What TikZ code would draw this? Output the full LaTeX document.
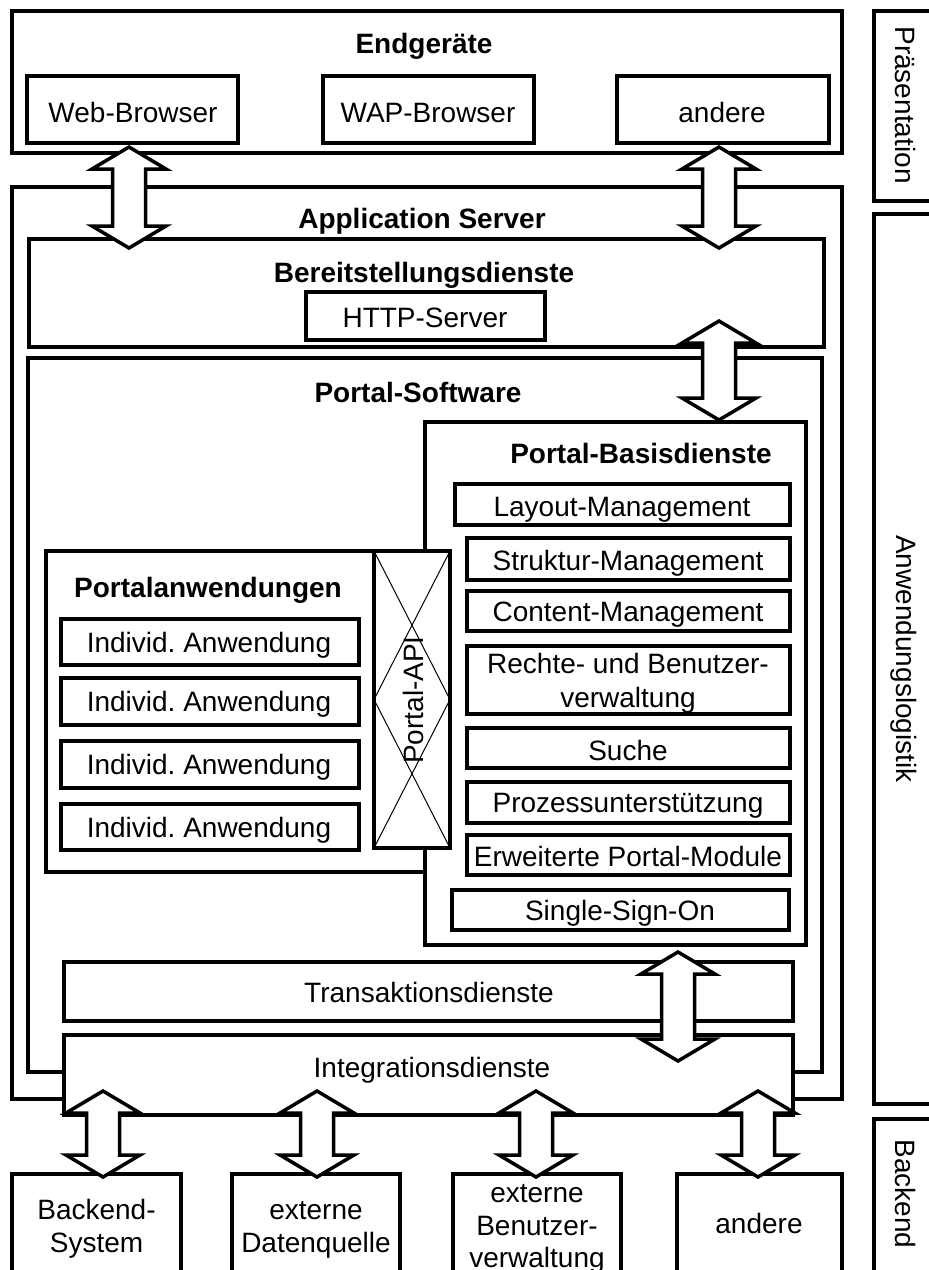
\documentclass[tikz,border=0pt]{standalone}
\usepackage{fontspec}
\setmainfont{Liberation Sans}
\usetikzlibrary{calc}
\frenchspacing

\tikzset{
  frame/.style={draw=black, line width=4pt, fill=white, inner sep=0pt, outer sep=0pt, anchor=north west},
  lbl/.style={font=\fontsize{28}{33}\selectfont, inner sep=0pt, outer sep=0pt, anchor=base},
  ttl/.style={lbl, font=\fontsize{28}{33}\selectfont\bfseries},
  blkarrow/.style={draw=black, fill=white, line width=3.5pt, line join=miter},
  apiline/.style={draw=black, line width=1pt},
}

% frame node from its top-left to its bottom-right corner (line centres)
\newcommand\mkframe[5]{\node[frame, minimum width={(#4-(#2))*1pt}, minimum height={(#5-(#3))*1pt}] (#1) at (#2,#3) {};}

% white double-headed block arrow between two named points (upper tip first)
\newcommand\dblarrow[2]{\draw[blkarrow] (#1) -- ++(37,22) -- ++(-20.5,0) -- ($(#2)+(16.5,-22)$) -- ++(20.5,0) -- (#2) -- ++(-37,-22) -- ++(20.5,0) -- ($(#1)+(-16.5,22)$) -- ++(-20.5,0) -- cycle;}

\begin{document}
\begin{tikzpicture}[x=1pt, y=-1pt]
\fill[white] (0,0) rectangle (929,1270);
\useasboundingbox (0,0) rectangle (929,1270);

% layer labels on the right
\mkframe{praes}{874}{11}{960}{200.5}
\mkframe{anwlog}{874}{214}{960}{1104}
\mkframe{backend}{874}{1119}{960}{1300}
\node[lbl, rotate=-90] (tpraes) at (895,105) {Präsentation};
\node[lbl, rotate=-90] (tanwlog) at (896,659) {Anwendungslogistik};
\node[lbl, rotate=-90] (tbackend) at (895,1194) {Backend};

% end devices
\mkframe{endg}{12}{11}{842}{153}
\node[ttl] (tendg) at (424,53) {Endgeräte};
\mkframe{web}{27}{76}{238}{143}
\node[lbl] (tweb) at (133,122) {Web-Browser};
\mkframe{wap}{323}{76}{534}{143}
\node[lbl] (twap) at (428,122) {WAP-Browser};
\mkframe{andereA}{617}{76}{829}{143}
\node[lbl] (tandereA) at (722,122) {andere};

% application server
\mkframe{appserver}{12}{187}{842}{1099}
\node[ttl] (tappserver) at (422,228) {Application Server};

\mkframe{bereit}{29}{239}{824}{347}
\node[ttl] (tbereit) at (424,282) {Bereitstellungsdienste};
\mkframe{http}{306}{292}{545}{340}
\node[lbl] (thttp) at (425,327) {HTTP-Server};

% portal software
\mkframe{portalsw}{28}{358}{822}{1072}
\node[ttl] (tportalsw) at (418,402) {Portal-Software};

\mkframe{basis}{425}{422}{806}{945}
\node[ttl] (tbasis) at (641,463) {Portal-Basisdienste};
\mkframe{layout}{455}{484}{790}{525}
\node[lbl] (tlayout) at (622,516) {Layout-Management};
\mkframe{struktur}{467}{538}{790}{580}
\node[lbl] (tstruktur) at (628,570) {Struktur-Management};
\mkframe{content}{467}{591}{790}{631}
\node[lbl] (tcontent) at (628,621) {Content-Management};
\mkframe{rechte}{467}{646}{790}{714}
\node[lbl] (trechteA) at (628,673) {Rechte- und Benutzer-};
\node[lbl] (trechteB) at (628,707) {verwaltung};
\mkframe{suche}{467}{728}{790}{768}
\node[lbl] (tsuche) at (628,760) {Suche};
\mkframe{prozess}{467}{782}{790}{823}
\node[lbl] (tprozess) at (628,812) {Prozessunterstützung};
\mkframe{erweitert}{467}{835}{790}{875}
\node[lbl] (terweitert) at (628,866) {Erweiterte Portal-Module};
\mkframe{sso}{452}{890}{789}{930}
\node[lbl] (tsso) at (620,920) {Single-Sign-On};

\mkframe{pa}{46}{551}{425}{872}
\node[ttl] (tpa) at (208,597) {Portalanwendungen};
\mkframe{indA}{61}{619}{359}{665}
\node[lbl] (tindA) at (209,652) {Individ. Anwendung};
\mkframe{indB}{61}{678}{359}{725}
\node[lbl] (tindB) at (209,711) {Individ. Anwendung};
\mkframe{indC}{61}{741}{359}{788}
\node[lbl] (tindC) at (209,774) {Individ. Anwendung};
\mkframe{indD}{61}{804}{359}{850}
\node[lbl] (tindD) at (209,837) {Individ. Anwendung};

% portal API with its cross lines
\mkframe{api}{374}{551}{450}{848}
\draw[apiline] (api.north west) -- (api.east) -- (api.south west);
\draw[apiline] (api.north east) -- (api.west) -- (api.south east);
\node[lbl, rotate=90] (tapi) at (423,700) {Portal-API};

% transaction and integration services
\mkframe{trans}{64}{962}{793}{1021}
\node[lbl] (ttrans) at (429,1002) {Transaktionsdienste};
\mkframe{integ}{64}{1035}{793}{1115}
\node[lbl] (tinteg) at (432,1077) {Integrationsdienste};

% backend systems
\mkframe{beA}{12}{1174}{181}{1300}
\node[lbl] (tbeA1) at (96.5,1219) {Backend-};
\node[lbl] (tbeA2) at (96.5,1252) {System};
\mkframe{beB}{232}{1174}{400}{1300}
\node[lbl] (tbeB1) at (316,1219) {externe};
\node[lbl] (tbeB2) at (316,1252) {Datenquelle};
\mkframe{beC}{453}{1174}{621}{1300}
\node[lbl] (tbeC1) at (537,1202) {externe};
\node[lbl] (tbeC2) at (537,1235) {Benutzer-};
\node[lbl] (tbeC3) at (537,1267) {verwaltung};
\mkframe{beD}{677}{1174}{842}{1300}
\node[lbl] (tbeD) at (759,1233) {andere};

% arrow tips
\coordinate (a1s) at (129,147);  \coordinate (a1e) at (129,248);
\coordinate (a2s) at (719,147);  \coordinate (a2e) at (719,248);
\coordinate (a3s) at (719,321);  \coordinate (a3e) at (719,420);
\coordinate (a4s) at (678,952);  \coordinate (a4e) at (678,1061);
\coordinate (b1s) at (103,1091); \coordinate (b1e) at (103,1177);
\coordinate (b2s) at (317,1091); \coordinate (b2e) at (317,1177);
\coordinate (b3s) at (536,1091); \coordinate (b3e) at (536,1177);
\coordinate (b4s) at (758,1091); \coordinate (b4e) at (758,1177);

\dblarrow{a1s}{a1e}
\dblarrow{a2s}{a2e}
\dblarrow{a3s}{a3e}
\dblarrow{a4s}{a4e}
\dblarrow{b1s}{b1e}
\dblarrow{b2s}{b2e}
\dblarrow{b3s}{b3e}
\dblarrow{b4s}{b4e}
\end{tikzpicture}
\end{document}
